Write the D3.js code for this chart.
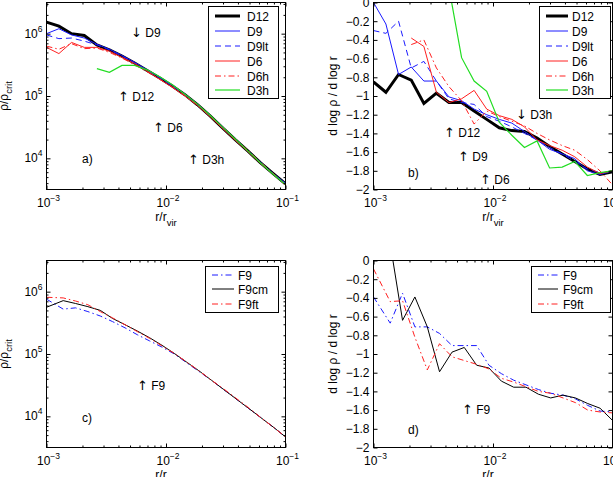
<!DOCTYPE html>
<html><head><meta charset="utf-8">
<script src="https://cdn.jsdelivr.net/npm/d3@7"></script>
<style>
html,body{margin:0;padding:0;background:#fff;}
svg{display:block;font-family:"Liberation Sans",Arial,Helvetica,sans-serif;}
</style></head><body>
<svg id="chart" width="613" height="477"></svg>
<script>
// ---------- data ----------
const rD = [0.00100,0.00127,0.00162,0.00207,0.00264,0.00336,0.00428,0.00546,0.00695,0.00886,0.01129,0.01438,0.01833,0.02336,0.02976,0.03793,0.04833,0.06158,0.07848,0.10000];
const rF = [0.00100,0.00138,0.00175,0.00222,0.00282,0.00357,0.00454,0.00575,0.00730,0.00925,0.01175,0.01489,0.01888,0.02399,0.03041,0.03855,0.04898,0.06209,0.07870,0.10000];

// panel a: rho/rho_crit
const rhoD12  = [1.53e6,1.32e6,1.00e6,9.33e5,6.61e5,5.50e5,4.37e5,3.39e5,2.57e5,1.95e5,1.45e5,1.05e5,7.24e4,4.79e4,3.09e4,2.00e4,1.32e4,8.51e3,5.75e3,3.89e3];
const rhoD9   = [1.00e6,1.20e6,9.55e5,8.51e5,6.76e5,5.62e5,4.47e5,3.47e5,2.63e5,2.00e5,1.48e5,1.07e5,7.41e4,4.90e4,3.16e4,2.04e4,1.32e4,8.71e3,5.75e3,3.98e3];
const rhoD9lt = [9.55e5,8.32e5,8.51e5,7.59e5,6.61e5,5.50e5,4.37e5,3.39e5,2.57e5,1.95e5,1.45e5,1.05e5,7.24e4,4.79e4,3.09e4,2.00e4,1.32e4,8.51e3,5.75e3,3.89e3];
const rhoD6   = [6.03e5,4.79e5,7.24e5,6.03e5,6.03e5,5.25e5,4.17e5,3.31e5,2.51e5,1.86e5,1.38e5,1.00e5,7.08e4,4.68e4,3.02e4,1.95e4,1.29e4,8.32e3,5.62e3,3.80e3];
const rhoD6h  = [6.31e5,5.62e5,6.92e5,5.75e5,5.89e5,5.01e5,4.07e5,3.16e5,2.45e5,1.86e5,1.41e5,1.02e5,7.24e4,4.79e4,3.16e4,2.04e4,1.35e4,8.71e3,5.75e3,3.72e3];
const rhoD3h  = [null,null,null,null,2.75e5,2.40e5,3.09e5,3.09e5,2.63e5,2.04e5,1.51e5,1.07e5,7.41e4,4.90e4,3.16e4,2.04e4,1.32e4,8.51e3,5.62e3,3.80e3];

// panel b: d log rho / d log r
const slopeD12  = [-0.85,-0.96,-0.77,-0.83,-1.08,-0.97,-1.07,-1.07,-1.16,-1.25,-1.34,-1.37,-1.38,-1.45,-1.54,-1.62,-1.70,-1.78,-1.84,-1.81];
const slopeD9   = [0.00,-0.23,-0.77,-0.69,-0.84,-0.84,-1.01,-1.05,-1.14,-1.20,-1.25,-1.29,-1.38,-1.47,-1.57,-1.62,-1.67,-1.80,-1.84,-1.80];
const slopeD9lt = [-0.30,-0.33,-0.20,-0.70,-0.63,-0.84,-1.03,-1.07,-1.09,-1.22,-1.27,-1.33,-1.40,-1.47,-1.55,-1.62,-1.70,-1.78,-1.82,-1.82];
const slopeD6   = [null,null,null,-0.38,-0.47,-0.96,-1.07,-1.03,-0.94,-1.14,-1.21,-1.25,-1.33,-1.47,-1.53,-1.58,-1.65,-1.76,-1.83,-1.80];
const slopeD6h  = [null,null,null,-0.45,-0.40,-0.70,-0.90,-1.05,-1.30,-1.16,-1.22,-1.27,-1.32,-1.40,-1.47,-1.53,-1.58,-1.68,-1.80,-1.95];
const slopeD3h  = [null,null,null,null,null,null,0.16,-0.59,-0.84,-0.95,-1.28,-1.42,-1.55,-1.48,-1.77,-1.76,-1.70,-1.85,-1.82,-1.80];

// panel c: rho/rho_crit
const rhoF9   = [7.59e5,5.25e5,5.50e5,4.79e5,4.07e5,3.31e5,2.63e5,2.04e5,1.62e5,1.29e5,1.00e5,7.24e4,5.25e4,3.80e4,2.69e4,1.91e4,1.35e4,9.55e3,6.76e3,4.68e3];
const rhoF9cm = [5.62e5,7.18e5,6.46e5,5.75e5,5.01e5,3.72e5,2.95e5,2.34e5,1.82e5,1.38e5,1.02e5,7.41e4,5.37e4,3.80e4,2.69e4,1.91e4,1.35e4,9.55e3,6.76e3,4.68e3];
const rhoF9ft = [8.13e5,7.94e5,7.08e5,6.17e5,4.79e5,3.80e5,2.95e5,2.29e5,1.78e5,1.35e5,1.02e5,7.41e4,5.37e4,3.80e4,2.75e4,1.95e4,1.38e4,9.55e3,6.76e3,4.68e3];

// panel d: d log rho / d log r
const slopeF9   = [-0.39,-0.67,-0.35,-0.71,-0.71,-0.78,-0.91,-0.91,-0.91,-1.12,-1.21,-1.28,-1.33,-1.38,-1.42,-1.44,-1.48,-1.55,-1.61,-1.62];
const slopeF9cm = [null,0.18,-0.64,-0.39,-0.71,-1.19,-0.98,-0.93,-1.12,-1.15,-1.29,-1.355,-1.355,-1.43,-1.47,-1.44,-1.47,-1.53,-1.58,-1.71];
const slopeF9ft = [-0.09,-0.44,-0.43,-0.82,-1.17,-0.89,-1.03,-1.07,-1.11,-1.16,-1.26,-1.30,-1.35,-1.40,-1.42,-1.47,-1.52,-1.60,-1.62,-1.63];

// ticks
const xMajor = [1e-3,1e-2,1e-1];
const xMajorExp = ["\u22123","\u22122","\u22121"];
const rhoMajor = [1e4,1e5,1e6];
const rhoMajorExp = ["4","5","6"];
const slopeTicks = [0,-0.2,-0.4,-0.6,-0.8,-1,-1.2,-1.4,-1.6,-1.8,-2];
const slopeTickLabels = ["0","\u22120.2","\u22120.4","\u22120.6","\u22120.8","\u22121","\u22121.2","\u22121.4","\u22121.6","\u22121.8","\u22122"];

// ---------- styles ----------
const BLUE = "#1a1aff", RED = "#ff2020", GREEN = "#22dd22";
const DASH = "6,4", DASHDOT = "6,3,1.5,3";

const panels = [
  { x0:46.5, x1:285.5, y0:2.5, y1:189.5, yType:"log", tag:"a)", tagPos:[82,163],
    series:[
      {name:"D12", r:rD, v:rhoD12, color:"#000", w:3, dash:null},
      {name:"D9", r:rD, v:rhoD9, color:BLUE, w:1, dash:null},
      {name:"D9lt", r:rD, v:rhoD9lt, color:BLUE, w:1, dash:DASH},
      {name:"D6", r:rD, v:rhoD6, color:RED, w:1, dash:null},
      {name:"D6h", r:rD, v:rhoD6h, color:RED, w:1, dash:DASHDOT},
      {name:"D3h", r:rD, v:rhoD3h, color:GREEN, w:1.2, dash:null}],
    legend:{x:208.5, y:6.5, w:70, h:92, lx0:215, lx1:240, tx:247, rows:[16,31,46,61,76,90]},
    notes:[["\u2193","D9",131,37],["\u2191","D12",118,101],["\u2191","D6",153,132],["\u2191","D3h",188,164]],
    ylabel:{x:8, y:96}, xlabelY:221, tickY:207 },
  { x0:373.5, x1:612.5, y0:2.5, y1:189.5, yType:"lin", tag:"b)", tagPos:[408,177],
    series:[
      {name:"D12", r:rD, v:slopeD12, color:"#000", w:3, dash:null},
      {name:"D9", r:rD, v:slopeD9, color:BLUE, w:1, dash:null},
      {name:"D9lt", r:rD, v:slopeD9lt, color:BLUE, w:1, dash:DASH},
      {name:"D6", r:rD, v:slopeD6, color:RED, w:1, dash:null},
      {name:"D6h", r:rD, v:slopeD6h, color:RED, w:1, dash:DASHDOT},
      {name:"D3h", r:rD, v:slopeD3h, color:GREEN, w:1.2, dash:null}],
    legend:{x:539.5, y:6.5, w:71, h:92, lx0:546, lx1:568, tx:572, rows:[16,31,46,61,76,90]},
    notes:[["\u2193","D3h",516,119],["\u2191","D12",444,137],["\u2191","D9",458,161],["\u2191","D6",480,184]],
    ylabel:{x:337, y:96}, xlabelY:221, tickY:207 },
  { x0:46.5, x1:285.5, y0:260.5, y1:447.5, yType:"log", tag:"c)", tagPos:[82,422],
    series:[
      {name:"F9", r:rF, v:rhoF9, color:BLUE, w:1, dash:DASHDOT},
      {name:"F9cm", r:rF, v:rhoF9cm, color:"#000", w:1, dash:null},
      {name:"F9ft", r:rF, v:rhoF9ft, color:RED, w:1, dash:DASHDOT}],
    legend:{x:205.5, y:266.5, w:73, h:46, lx0:212, lx1:234, tx:238, rows:[275,289,304]},
    notes:[["\u2191","F9",137,390]],
    ylabel:{x:8, y:354}, xlabelY:478.5, tickY:465 },
  { x0:373.5, x1:612.5, y0:260.5, y1:447.5, yType:"lin", tag:"d)", tagPos:[408,434],
    series:[
      {name:"F9", r:rF, v:slopeF9, color:BLUE, w:1, dash:DASHDOT},
      {name:"F9cm", r:rF, v:slopeF9cm, color:"#000", w:1, dash:null},
      {name:"F9ft", r:rF, v:slopeF9ft, color:RED, w:1, dash:DASHDOT}],
    legend:{x:531.5, y:266.5, w:79, h:46, lx0:538, lx1:558, tx:563, rows:[275,289,304]},
    notes:[["\u2191","F9",462,414]],
    ylabel:{x:337, y:354}, xlabelY:478.5, tickY:465 }
];

const svg = d3.select("#chart");
const FS = 12;

panels.forEach((p, i) => {
  const g = svg.append("g");
  const x = d3.scaleLog().domain([1e-3, 1e-1]).range([p.x0, p.x1]);
  const y = p.yType === "log"
    ? d3.scaleLog().domain([Math.pow(10,3.5), Math.pow(10,6.5)]).range([p.y1, p.y0])
    : d3.scaleLinear().domain([-2, 0]).range([p.y1, p.y0]);

  const cid = "clip" + i;
  svg.append("clipPath").attr("id", cid).append("rect")
    .attr("x", p.x0).attr("y", p.y0).attr("width", p.x1 - p.x0).attr("height", p.y1 - p.y0);

  // series, drawn in legend order (thick D12 underneath the thin lines)
  const line = d3.line().defined(d => d[1] != null).x(d => x(d[0])).y(d => y(d[1]));
  const lg = g.append("g").attr("clip-path", `url(#${cid})`);
  p.series.forEach(s => {
    const pts = s.r.map((r, k) => [r, s.v[k]]);
    lg.append("path").attr("d", line(pts)).attr("fill", "none")
      .attr("stroke", s.color).attr("stroke-width", s.w)
      .attr("stroke-dasharray", s.dash).attr("stroke-linejoin", "miter");
  });

  // axes ticks (inward) via d3 axes
  const xMinor = x.ticks(20).filter(t => !xMajor.some(m => Math.abs(m - t)/m < 1e-6));
  const addAxis = (axis, tx, ty) => {
    g.append("g").attr("transform", `translate(${tx},${ty})`).call(axis)
      .call(s => s.select(".domain").remove())
      .call(s => s.selectAll("text").remove());
  };
  addAxis(d3.axisBottom(x).tickValues(xMajor).tickSize(-4), 0, p.y1);
  addAxis(d3.axisTop(x).tickValues(xMajor).tickSize(-4), 0, p.y0);
  addAxis(d3.axisBottom(x).tickValues(xMinor).tickSize(-2), 0, p.y1);
  addAxis(d3.axisTop(x).tickValues(xMinor).tickSize(-2), 0, p.y0);
  if (p.yType === "log") {
    const yMinor = y.ticks(30).filter(t => !rhoMajor.some(m => Math.abs(m - t)/m < 1e-6));
    addAxis(d3.axisLeft(y).tickValues(rhoMajor).tickSize(-4), p.x0, 0);
    addAxis(d3.axisRight(y).tickValues(rhoMajor).tickSize(-4), p.x1, 0);
    addAxis(d3.axisLeft(y).tickValues(yMinor).tickSize(-2), p.x0, 0);
    addAxis(d3.axisRight(y).tickValues(yMinor).tickSize(-2), p.x1, 0);
    rhoMajor.forEach((t, k) => {
      const tt = g.append("text").attr("x", p.x0 - 4).attr("y", y(t) + 4)
        .attr("text-anchor", "end").attr("font-size", FS);
      tt.append("tspan").text("10");
      tt.append("tspan").attr("dy", -6).attr("font-size", 8.5).text(rhoMajorExp[k]);
    });
  } else {
    addAxis(d3.axisLeft(y).tickValues(slopeTicks).tickSize(-4), p.x0, 0);
    addAxis(d3.axisRight(y).tickValues(slopeTicks).tickSize(-4), p.x1, 0);
    slopeTicks.forEach((t, k) => {
      g.append("text").attr("x", p.x0 - 4).attr("y", y(t) + 4.3)
        .attr("text-anchor", "end").attr("font-size", FS).text(slopeTickLabels[k]);
    });
  }
  xMajor.forEach((t, k) => {
    const tt = g.append("text").attr("x", x(t) + 2).attr("y", p.tickY)
      .attr("text-anchor", "middle").attr("font-size", FS);
    tt.append("tspan").text("10");
    tt.append("tspan").attr("dy", -6).attr("font-size", 8.5).text(xMajorExp[k]);
  });

  // frame
  g.append("rect").attr("x", p.x0).attr("y", p.y0).attr("width", p.x1 - p.x0).attr("height", p.y1 - p.y0)
    .attr("fill", "none").attr("stroke", "#000").attr("stroke-width", 1);

  // axis labels
  const xl = g.append("text").attr("x", (p.x0 + p.x1) / 2).attr("y", p.xlabelY)
    .attr("text-anchor", "middle").attr("font-size", FS);
  xl.append("tspan").text("r/r");
  xl.append("tspan").attr("dy", 5).attr("font-size", 9.5).text("vir");

  const yl = g.append("text").attr("transform", `translate(${p.ylabel.x},${p.ylabel.y}) rotate(-90)`)
    .attr("text-anchor", "middle").attr("font-size", FS);
  if (p.yType === "log") {
    yl.append("tspan").text("\u03c1/\u03c1");
    yl.append("tspan").attr("dy", 4).attr("font-size", 9.5).text("crit");
  } else {
    yl.text("d log \u03c1 / d log r");
  }

  // annotations (arrow glyph + run name)
  p.notes.forEach(n => {
    const t = g.append("text").attr("x", n[2]).attr("y", n[3]).attr("font-size", FS);
    t.append("tspan").attr("font-family", "'DejaVu Sans'").attr("font-size", 13).text(n[0]);
    t.append("tspan").text(" " + n[1]);
  });
  g.append("text").attr("x", p.tagPos[0]).attr("y", p.tagPos[1]).attr("font-size", FS).text(p.tag);

  // legend
  const L = p.legend;
  const lgd = g.append("g");
  lgd.append("rect").attr("x", L.x).attr("y", L.y).attr("width", L.w).attr("height", L.h)
    .attr("fill", "#fff").attr("stroke", "#000").attr("stroke-width", 1);
  p.series.forEach((s, k) => {
    const yy = L.rows[k];
    lgd.append("line").attr("x1", L.lx0).attr("x2", L.lx1).attr("y1", yy).attr("y2", yy)
      .attr("stroke", s.color).attr("stroke-width", s.w).attr("stroke-dasharray", s.dash);
    lgd.append("text").attr("x", L.tx).attr("y", yy + 4.5).attr("font-size", FS).text(s.name);
  });
});
</script>
</body></html>
